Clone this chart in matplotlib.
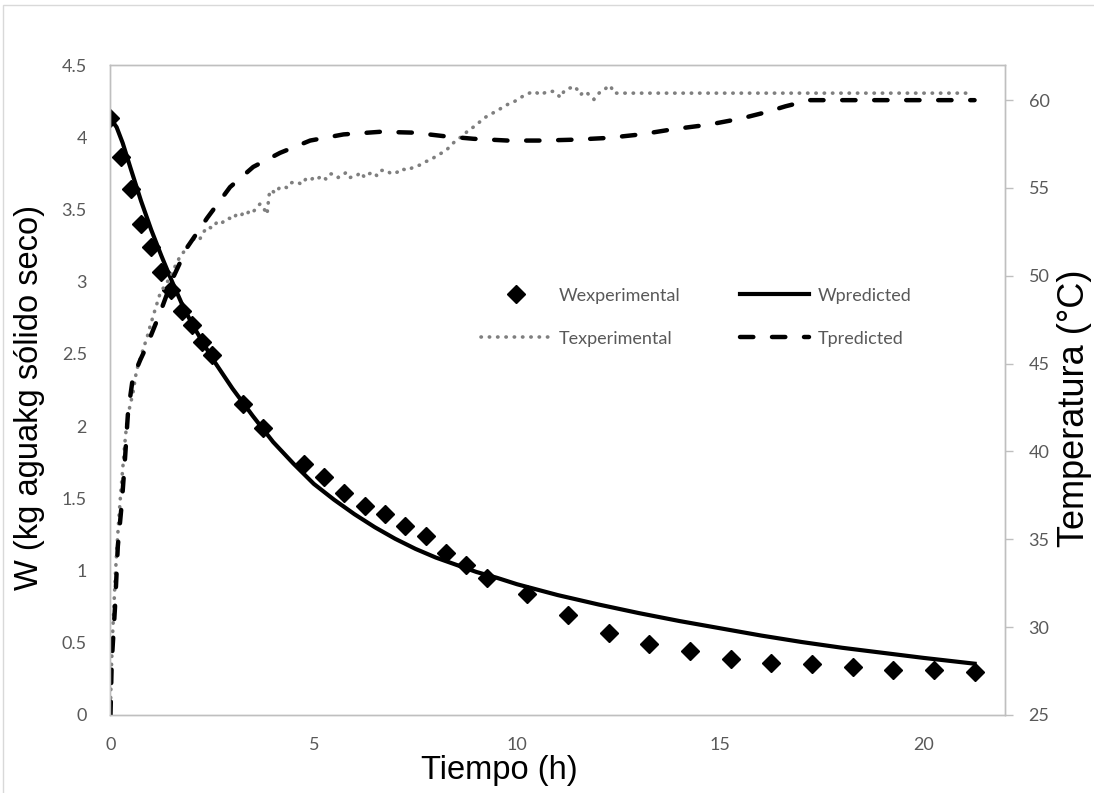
import numpy as np
import matplotlib
matplotlib.use("Agg")
import matplotlib.pyplot as plt
from matplotlib.patches import Rectangle
from matplotlib.ticker import FuncFormatter

# W experimental (diamonds)
t_wexp = [0, 0.25, 0.5, 0.75, 1.0, 1.25, 1.5, 1.75, 2.0, 2.25, 2.5, 3.25, 3.75,
          4.75, 5.25, 5.75, 6.25, 6.75, 7.25, 7.75, 8.25, 8.75, 9.25, 10.25,
          11.25, 12.25, 13.25, 14.25, 15.25, 16.25, 17.25, 18.25, 19.25, 20.25, 21.25]
w_exp = [4.13, 3.86, 3.64, 3.40, 3.24, 3.07, 2.94, 2.80, 2.70, 2.58, 2.49, 2.15, 1.99,
         1.74, 1.65, 1.54, 1.45, 1.39, 1.31, 1.24, 1.12, 1.04, 0.95, 0.84,
         0.69, 0.57, 0.49, 0.44, 0.39, 0.36, 0.35, 0.33, 0.31, 0.31, 0.30]

# W predicted (solid)
t_wpred = [0, 0.15, 0.3, 0.5, 0.75, 1.0, 1.25, 1.5, 1.75, 2.0, 2.5, 3.0, 3.5, 4.0,
           4.5, 5.0, 5.5, 6.0, 6.5, 7.0, 7.5, 8.0, 8.5, 9.0, 9.5, 10.0, 11.0, 12.0,
           13.0, 14.0, 15.0, 16.0, 17.0, 18.0, 19.0, 20.0, 21.25]
w_pred = [4.13, 4.07, 3.96, 3.78, 3.56, 3.36, 3.18, 3.01, 2.85, 2.71, 2.47, 2.26, 2.07,
          1.89, 1.74, 1.60, 1.49, 1.39, 1.30, 1.22, 1.15, 1.09, 1.04, 0.99, 0.95,
          0.905, 0.83, 0.765, 0.705, 0.65, 0.60, 0.55, 0.505, 0.465, 0.43, 0.395, 0.355]

# T experimental (grey dotted)
t_texp = [0, 0.02, 0.05, 0.08, 0.12, 0.16, 0.2, 0.25, 0.3, 0.35, 0.4, 0.47, 0.55,
          0.64, 0.72, 0.8, 0.9, 0.97,
          1.1, 1.22, 1.35, 1.47, 1.6, 1.71, 1.85, 1.96, 2.1, 2.2, 2.29, 2.4, 2.5,
          2.6, 2.7, 2.78, 2.9, 3.0, 3.1, 3.2, 3.27, 3.35, 3.45, 3.53, 3.6, 3.68,
          3.76, 3.8, 3.85,
          3.9, 3.95, 4.05, 4.15, 4.26, 4.35, 4.45, 4.59, 4.7, 4.8, 4.9, 5.0, 5.08,
          5.2, 5.3, 5.4, 5.49, 5.6, 5.7, 5.8, 5.9, 6.0, 6.06, 6.15, 6.25, 6.35,
          6.47, 6.55, 6.65, 6.8,
          6.9, 7.05, 7.15, 7.3, 7.46, 7.6, 7.75, 7.87, 8.0, 8.15, 8.28, 8.4, 8.55,
          8.69, 8.8, 8.95, 9.1, 9.2, 9.35, 9.51, 9.65, 9.8, 9.92, 10.05, 10.2,
          10.3, 10.41, 10.5, 10.6, 10.66, 10.75, 10.9, 11.0, 11.07, 11.15, 11.24,
          11.32, 11.4, 11.48, 11.56, 11.65, 11.73, 11.8, 11.89, 11.97, 12.06,
          12.15, 12.26, 12.32, 12.38, 21.2]
T_exp = [25.5, 27.5, 29.5, 31.0, 33.0, 34.6, 36.0, 37.6, 39.0, 40.4, 41.6, 42.5, 43.3,
         44.6, 45.2, 45.8, 46.5, 47.1,
         48.1, 49.0, 49.5, 49.9, 50.6, 51.1, 51.5, 51.9, 52.2, 52.1, 52.5, 52.8, 52.7,
         53.0, 52.9, 53.1, 53.3, 53.2, 53.5, 53.4, 53.6, 53.5, 53.8, 53.7, 53.9, 54.1,
         53.9, 53.7, 53.5,
         54.6, 54.9, 54.7, 55.0, 55.1, 55.0, 55.3, 55.35, 55.2, 55.5, 55.4, 55.6, 55.5,
         55.7, 55.5, 55.8, 55.8, 55.6, 55.7, 55.9, 55.6, 55.7, 55.7, 55.9, 55.6, 55.8,
         55.9, 55.7, 56.0, 56.0,
         55.8, 55.9, 56.1, 56.0, 56.2, 56.3, 56.5, 56.6, 56.8, 57.0, 57.2, 57.5, 57.8,
         58.0, 58.3, 58.5, 58.8, 59.0, 59.2, 59.4, 59.6, 59.8, 59.9, 60.1, 60.3,
         60.4, 60.5, 60.4, 60.3, 60.4, 60.5, 60.5, 60.3, 60.15, 60.5, 60.67,
         60.7, 60.8, 60.6, 60.3, 60.5, 60.4, 60.2, 60.04, 60.3, 60.5,
         60.6, 60.85, 60.7, 60.4, 60.4]

# T predicted (dashed)
t_tpred = [0, 0.03, 0.11, 0.18, 0.28, 0.36, 0.43, 0.55, 0.73, 0.89, 1.22, 1.54, 1.88,
           2.38, 2.94, 3.51, 4.17, 4.91, 5.73, 6.64, 7.46, 8.2, 8.93, 9.77, 10.6,
           11.4, 12.23, 13.04, 13.85, 14.7, 15.5, 16.1, 16.6, 17.2, 18.0, 19.0, 20.0, 21.25]
T_pred = [25.0, 28.0, 31.1, 34.6, 37.1, 39.7, 42.2, 44.2, 45.2, 46.0, 47.9, 49.9, 51.6,
          53.3, 55.05, 56.2, 57.0, 57.7, 58.05, 58.2, 58.15, 57.95, 57.8, 57.7, 57.7,
          57.75, 57.85, 58.05, 58.35, 58.6, 58.95, 59.3, 59.65, 60.0, 60.0, 60.0, 60.0, 60.0]

x_ticks = [0, 5, 10, 15, 20]
w_ticks = [0, 0.5, 1, 1.5, 2, 2.5, 3, 3.5, 4, 4.5]
t_ticks = [25, 30, 35, 40, 45, 50, 55, 60]

GRID_GREY = "#bfbfbf"
TEXT_GREY = "#595959"
TICK_FONT = "Lato"
LABEL_FONT = "Liberation Sans"


def plot():
    fig = plt.figure(figsize=(10.94, 7.93), dpi=100)
    ax1 = fig.add_axes([0.101, 0.0984, 0.8177, 0.8196])
    ax2 = ax1.twinx()

    # moisture content on the left axis
    h_wexp, = ax1.plot(t_wexp, w_exp, linestyle="none", marker="D", markersize=9.5,
                       color="black", label="Wexperimental")
    h_wpred, = ax1.plot(t_wpred, w_pred, color="black", linewidth=3.0,
                        solid_joinstyle="round", label="Wpredicted")

    # temperature on the right axis
    h_texp, = ax2.plot(t_texp, T_exp, color="#7f7f7f", linewidth=2.6,
                       linestyle=(0, (0.1, 2.2)), dash_capstyle="round",
                       label="Texperimental")
    h_tpred, = ax2.plot(t_tpred, T_pred, color="black", linewidth=3.2,
                        linestyle=(0, (3.0, 4.2)), dash_capstyle="round",
                        label="Tpredicted")

    ax1.set_xlim(0, 22)
    ax1.set_ylim(0, 4.5)
    ax2.set_ylim(25, 62)
    ax1.set_xticks(x_ticks)
    ax1.set_yticks(w_ticks)
    ax2.set_yticks(t_ticks)
    ax1.yaxis.set_major_formatter(FuncFormatter(lambda v, p: f"{v:g}"))

    for ax in (ax1, ax2):
        for sp in ax.spines.values():
            sp.set_color(GRID_GREY)
            sp.set_linewidth(1.0)
        for lab in ax.get_xticklabels() + ax.get_yticklabels():
            lab.set_fontfamily(TICK_FONT)
            lab.set_fontsize(13)
            lab.set_color(TEXT_GREY)

    ax1.tick_params(axis="x", length=0, pad=16)
    ax1.tick_params(axis="y", length=0, pad=17)
    ax2.tick_params(axis="y", length=6, width=1, color=GRID_GREY, direction="out", pad=11)

    # axis titles (Excel places them slightly off-centre)
    ax1.set_xlabel("Tiempo (h)", fontsize=23.5, family=LABEL_FONT, va="center")
    ax1.xaxis.set_label_coords(0.435, -0.085)
    ax1.set_ylabel("W (kg aguakg sólido seco)", fontsize=23.5, family=LABEL_FONT, va="center")
    ax1.yaxis.set_label_coords(-0.09, 0.489)
    ax2.set_ylabel("Temperatura (°C)", fontsize=26, family=LABEL_FONT, va="center")
    ax2.yaxis.set_label_coords(1.078, 0.472)

    leg = ax2.legend([h_wexp, h_texp, h_wpred, h_tpred],
                     ["Wexperimental", "Texperimental", "Wpredicted", "Tpredicted"],
                     ncol=2, loc="center", bbox_to_anchor=(0.655, 0.612),
                     frameon=False, handlelength=3.8, handletextpad=0.5,
                     columnspacing=3.3, labelspacing=1.5,
                     prop={"family": TICK_FONT, "size": 13})
    for txt in leg.get_texts():
        txt.set_color(TEXT_GREY)

    # chart area border
    fig.patches.append(Rectangle((0.0027, -0.01), 1.02, 1.0037, transform=fig.transFigure,
                                 fill=False, edgecolor="#d9d9d9", linewidth=1.0))

    fig.savefig("out.png", dpi=100)
    plt.close(fig)


if __name__ == "__main__":
    plot()
